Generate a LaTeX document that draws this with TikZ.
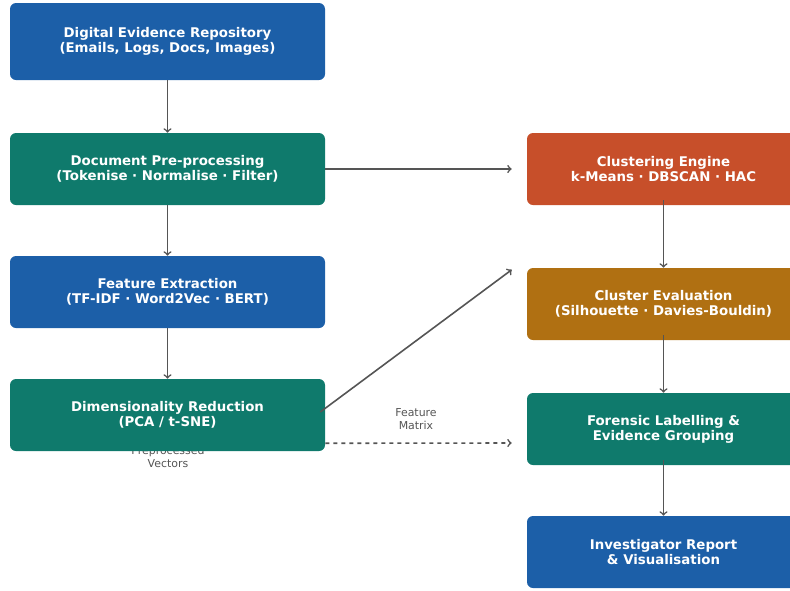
\documentclass[tikz,border=0pt]{standalone}
\usepackage{fontspec}
\setmainfont{DejaVu Sans}
\usepackage{tikz}
\usetikzlibrary{arrows,positioning,calc}
\usepackage{xcolor}
\definecolor{boxblue}{HTML}{1C5FA8}
\definecolor{boxteal}{HTML}{0F7A6C}
\definecolor{boxrust}{HTML}{C74F2A}
\definecolor{boxochre}{HTML}{B07012}
\definecolor{linegrey}{HTML}{555555}

\begin{document}
\begin{tikzpicture}[x=0.75pt,y=-0.75pt,
    stage/.style={rounded corners=4.5pt, text=white, align=center,
        font=\fontsize{10}{11.25}\selectfont\bfseries, inner sep=0pt},
    leftstage/.style={stage, minimum width=236.25pt, minimum height=54pt},
    rightstage/.style={stage, minimum width=204.75pt, minimum height=54pt},
    flow/.style={->, draw=linegrey, line width=1.2pt},
    note/.style={text=linegrey, align=center, font=\fontsize{8.2}{9.9}\selectfont}]
    \useasboundingbox (0,0) rectangle (790,590);
    % label sits behind the reduction box
    \node[note] (veclabel) at (168,457) {Preprocessed\\Vectors};
    % Left column
    \node[leftstage, fill=boxblue, minimum height=57.75pt] (repo) at (167.5,41.5)
        {Digital Evidence Repository\\(Emails, Logs, Docs, Images)};
    \node[leftstage, fill=boxteal] (prep) at (167.5,169)
        {Document Pre-processing\\(Tokenise · Normalise · Filter)};
    \node[leftstage, fill=boxblue] (feat) at (167.5,292)
        {Feature Extraction\\(TF-IDF · Word2Vec · BERT)};
    \node[leftstage, fill=boxteal] (dimred) at (167.5,415)
        {Dimensionality Reduction\\(PCA / t-SNE)};
    % Right column
    \node[rightstage, fill=boxrust] (cluster) at (663.5,169)
        {Clustering Engine\\k-Means · DBSCAN · HAC};
    \node[rightstage, fill=boxochre] (evalbox) at (663.5,304)
        {Cluster Evaluation\\(Silhouette · Davies-Bouldin)};
    \node[rightstage, fill=boxteal] (forensic) at (663.5,429)
        {Forensic Labelling \&\\Evidence Grouping};
    \node[rightstage, fill=boxblue] (report) at (663.5,552)
        {Investigator Report\\\& Visualisation};
    \node[note] (matlabel) at (416,419) {Feature\\Matrix};
    % Connectors
    \draw[flow] (repo.south) -- (prep.north);
    \draw[flow] (prep.south) -- (feat.north);
    \draw[flow] (feat.south) -- (dimred.north);
    \draw[flow] (prep.east) -- ($(cluster.west)+(-15,0)$);
    \draw[flow] ($(dimred.east)+(-5,-3)$) -- ($(evalbox.north west)+(-15,2)$);
    \draw[flow, dashed] ($(dimred.south east)+(0,-8)$) -- ($(forensic.west)+(-15,14)$);
    \draw[flow] ($(cluster.south)+(0,-5)$) -- (evalbox.north);
    \draw[flow] ($(evalbox.south)+(0,-5)$) -- (forensic.north);
    \draw[flow] ($(forensic.south)+(0,-5)$) -- (report.north);
\end{tikzpicture}
\end{document}
